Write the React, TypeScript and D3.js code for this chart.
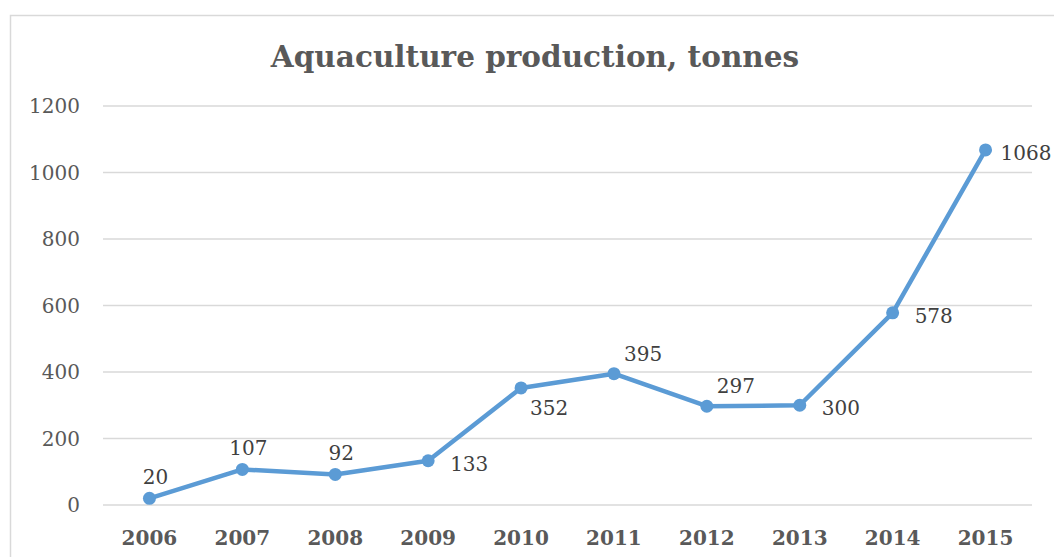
import React from "react";
import * as d3 from "d3";

const years = ["2006", "2007", "2008", "2009", "2010", "2011", "2012", "2013", "2014", "2015"];
const production = [20, 107, 92, 133, 352, 395, 297, 300, 578, 1068];
const yTicks = [0, 200, 400, 600, 800, 1000, 1200];
const labelPos = ["above", "above", "above", "right", "belowRight", "aboveRight", "aboveRight", "right", "right", "rightTight"];

const W = 1054, H = 557;
const FONT = "'DejaVu Serif', serif";
const TXT = "#595959";

export default function App() {
  const x = d3.scaleBand<string>().domain(years).range([103, 1032]).paddingInner(0).paddingOuter(0);
  const y = d3.scaleLinear().domain([0, 1200]).range([505, 106]);
  const cx = (d: string) => (x(d) as number) + x.bandwidth() / 2;
  const line = d3.line<number>().x((_, i) => cx(years[i])).y((v) => y(v));

  const offset = (p: string): [number, number, string] => {
    switch (p) {
      case "above": return [6, -14, "middle"];
      case "right": return [22, 10, "start"];
      case "rightTight": return [15, 10, "start"];
      case "belowRight": return [9, 27, "start"];
      case "aboveRight": return [10, -13, "start"];
      default: return [0, 0, "middle"];
    }
  };

  return (
    <svg width={W} height={H} style={{ position: "absolute", left: 0, top: 0, background: "#fff" }}>
      <rect x={10.5} y={15.5} width={1100} height={600} fill="#fff" stroke="#d9d9d9" strokeWidth={1.5} />
      <text x={535} y={67} textAnchor="middle" fontFamily={FONT} fontWeight="bold" fontSize={29.5} fill={TXT}>
        Aquaculture production, tonnes
      </text>
      {yTicks.map((t) => (
        <g key={t}>
          <line x1={103} x2={1032} y1={y(t)} y2={y(t)} stroke="#d9d9d9" strokeWidth={1.5} />
          <text x={80} y={y(t) + 7} textAnchor="end" fontFamily={FONT} fontSize={20} fill={TXT}>{t}</text>
        </g>
      ))}
      {years.map((yr) => (
        <text key={yr} x={cx(yr)} y={545} textAnchor="middle" fontFamily={FONT} fontWeight="bold" fontSize={20} fill={TXT}>{yr}</text>
      ))}
      <path d={line(production) || ""} fill="none" stroke="#5B9BD5" strokeWidth={4.5} strokeLinejoin="round" />
      {production.map((v, i) => (
        <circle key={i} cx={cx(years[i])} cy={y(v)} r={6.5} fill="#5B9BD5" />
      ))}
      {production.map((v, i) => {
        const [dx, dy, anchor] = offset(labelPos[i]);
        return (
          <text key={"l" + i} x={cx(years[i]) + dx} y={y(v) + dy} textAnchor={anchor as any} fontFamily={FONT} fontSize={20} fill="#404040">{v}</text>
        );
      })}
    </svg>
  );
}
